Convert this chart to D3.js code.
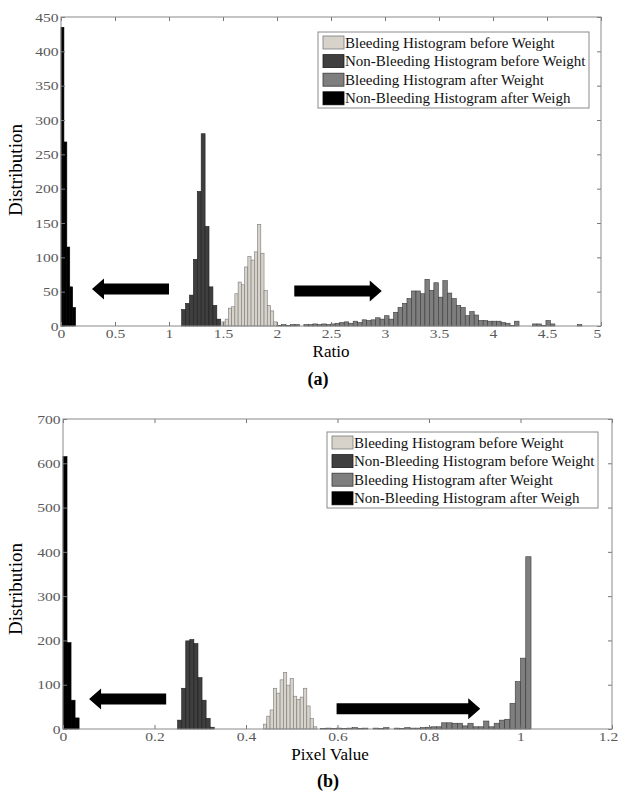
<!DOCTYPE html>
<html>
<head>
<meta charset="utf-8">
<script src="https://cdn.jsdelivr.net/npm/d3@7"></script>
<style>
body { margin: 0; background: #fff; }
svg, svg text { font-family: "Liberation Serif", "Times New Roman", "DejaVu Serif", serif !important; }
</style>
</head>
<body>
<svg id="fig" width="620" height="796" font-family="Liberation Serif"></svg>
<script>
// legend entries, same for both panels
const seriesNames = [
    'Bleeding Histogram before Weight',
    'Non-Bleeding Histogram before Weight',
    'Bleeding Histogram after Weight',
    'Non-Bleeding Histogram after Weigh'
];

// ---- panel (a): ratio ----
const ratioTicks = [0, 0.5, 1, 1.5, 2, 2.5, 3, 3.5, 4, 4.5, 5];
const ratioCountTicks = [0, 50, 100, 150, 200, 250, 300, 350, 400, 450];

// each histogram: first bin edge, bin width, counts
const ratioBleedBeforeStart = 1.49, ratioBleedBeforeBin = 0.03;
const ratioBleedBefore = [6, 10, 26, 28, 47, 64, 60, 86, 101, 96, 108, 148, 106, 52, 30, 22, 6];

const ratioNonBleedBeforeStart = 1.117, ratioNonBleedBeforeBin = 0.0362;
const ratioNonBleedBefore = [24, 33, 45, 97, 196, 280, 145, 57, 30, 10];

const ratioBleedAfterStart = 2.0, ratioBleedAfterBin = 0.0415;
const ratioBleedAfter = [1, 2, 1, 2, 2, 0, 2, 2, 3, 2, 3, 2, 3, 4, 5, 6, 4, 7, 5, 9, 8, 9, 12,
    10, 15, 10, 20, 27, 33, 40, 51, 51, 47, 68, 52, 63, 42, 66, 48, 40, 30, 27, 15,
    21, 16, 8, 8, 7, 7, 7, 5, 4, 1, 7, 0, 0, 0, 3, 3, 1, 8, 3, 0, 0, 0, 0, 0, 2];

const ratioNonBleedAfterStart = 0, ratioNonBleedAfterBin = 0.027;
const ratioNonBleedAfter = [435, 268, 115, 57, 27];

// arrows: [tail, tip, height] in data units
const ratioArrows = [[1.0, 0.287, 54], [2.16, 2.97, 51]];

// ---- panel (b): pixel value ----
const pixelTicks = [0, 0.2, 0.4, 0.6, 0.8, 1, 1.2];
const pixelCountTicks = [0, 100, 200, 300, 400, 500, 600, 700];

const pixelBleedBeforeStart = 0.438, pixelBleedBeforeBin = 0.0073;
const pixelBleedBefore = [11, 29, 43, 92, 81, 111, 128, 99, 114, 74, 67, 72, 92, 52, 24, 5];

const pixelNonBleedBeforeStart = 0.2505, pixelNonBleedBeforeBin = 0.0089;
const pixelNonBleedBefore = [20, 92, 199, 202, 193, 116, 65, 24, 4];

const pixelBleedAfterStart = 0.563, pixelBleedAfterBin = 0.0115;
const pixelBleedAfter = [1, 2, 1, 2, 1, 2, 3, 1, 2, 0, 2, 1, 3, 0, 2, 1, 3, 2, 2, 3, 4, 5, 5,
    14, 14, 13, 13, 7, 13, 5, 5, 18, 5, 13, 20, 22, 58, 107, 160, 389];

const pixelNonBleedAfterStart = 0, pixelNonBleedAfterBin = 0.0088;
const pixelNonBleedAfter = [615, 195, 65, 25];

const pixelArrows = [[0.2255, 0.057, 68], [0.598, 0.912, 46]];

// styling
const fills = ['#d7d3ca', '#3f3f3f', '#7e7e7e', '#000000'];
const strokes = ['#7a7a7a', '#1e1e1e', '#3a3a3a', '#000000'];
const serif = '"Liberation Serif", "Times New Roman", serif';

const svg = d3.select('#fig');

function drawPanel(p) {
    const g = svg.append('g');
    const x = d3.scaleLinear().domain(p.xDomain).range([p.left, p.right]);
    const y = d3.scaleLinear().domain(p.yDomain).range([p.bottom, p.top]);

    // histograms, in legend order
    p.series.forEach((s, i) => {
        const bins = s.counts.map((c, k) => ({
            x0: s.start + k * s.bin,
            x1: s.start + (k + 1) * s.bin,
            c: c
        })).filter(b => b.c > 0);
        g.append('g').selectAll('rect')
            .data(bins)
            .join('rect')
            .attr('x', d => x(d.x0))
            .attr('width', d => x(d.x1) - x(d.x0))
            .attr('y', d => y(d.c))
            .attr('height', d => y(0) - y(d.c))
            .attr('fill', fills[i])
            .attr('stroke', strokes[i])
            .attr('stroke-width', 0.6);
    });

    // axes with inward ticks on all four sides
    const fmt = d => String(d);
    const styleAxis = sel => {
        sel.attr('font-family', serif);
        sel.select('.domain').remove();
        sel.selectAll('line').attr('stroke', '#777');
        sel.selectAll('text')
            .attr('fill', '#5a5a5a')
            .attr('font-size', 13)
            .style('font-family', serif);
    };
    g.append('g').attr('transform', `translate(0,${p.bottom})`)
        .call(d3.axisBottom(x).tickValues(p.xTicks).tickFormat(fmt).tickSizeInner(-4).tickSizeOuter(0).tickPadding(3))
        .call(styleAxis)
        .selectAll('text')
        .attr('transform', d => x(d) > p.right - 8 ? 'translate(-4,0) scale(1.2,1)' : 'scale(1.2,1)');
    g.append('g').attr('transform', `translate(0,${p.top})`)
        .call(d3.axisTop(x).tickValues(p.xTicks).tickFormat('').tickSizeInner(-4).tickSizeOuter(0))
        .call(styleAxis);
    g.append('g').attr('transform', `translate(${p.left},0)`)
        .call(d3.axisLeft(y).tickValues(p.yTicks).tickFormat(fmt).tickSizeInner(-4).tickSizeOuter(0).tickPadding(2))
        .call(styleAxis)
        .selectAll('text').attr('transform', 'scale(1.2,1)');
    g.append('g').attr('transform', `translate(${p.right},0)`)
        .call(d3.axisRight(y).tickValues(p.yTicks).tickFormat('').tickSizeInner(-4).tickSizeOuter(0))
        .call(styleAxis);

    g.append('rect')
        .attr('x', p.left).attr('y', p.top)
        .attr('width', p.right - p.left).attr('height', p.bottom - p.top)
        .attr('fill', 'none').attr('stroke', '#8a8a8a').attr('stroke-width', 1);

    // black arrows
    const bodyT = 11, headL = 12, headH = 21;
    p.arrows.forEach(a => {
        const xt = x(a[0]), xh = x(a[1]), cy = y(a[2]);
        const s = Math.sign(xh - xt);
        const xb = xh - s * headL;
        const pts = [[xt, cy - bodyT / 2], [xb, cy - bodyT / 2], [xb, cy - headH / 2], [xh, cy],
            [xb, cy + headH / 2], [xb, cy + bodyT / 2], [xt, cy + bodyT / 2]];
        g.append('path')
            .attr('d', d3.line()(pts) + 'Z')
            .attr('fill', '#000');
    });

    // legend
    const lg = g.append('g').attr('transform', `translate(${p.legend[0]},${p.legend[1]})`);
    lg.append('rect')
        .attr('width', 271).attr('height', 76)
        .attr('fill', '#fff').attr('stroke', '#8a8a8a').attr('stroke-width', 1);
    seriesNames.forEach((name, i) => {
        const cy = 10.5 + i * 18.6;
        lg.append('rect')
            .attr('x', 5).attr('y', cy - 6.5)
            .attr('width', 21).attr('height', 13)
            .attr('fill', fills[i]).attr('stroke', strokes[i]).attr('stroke-width', 0.8);
        lg.append('text')
            .attr('x', 27).attr('y', cy + 5)
            .attr('font-size', 15)
            .attr('font-family', serif)
            .attr('fill', '#111')
            .text(name);
    });

    // titles
    g.append('text')
        .attr('transform', `translate(${p.yLabelPos[0]},${p.yLabelPos[1]}) rotate(-90)`)
        .attr('text-anchor', 'middle')
        .attr('font-size', 19)
        .attr('font-family', serif)
        .text('Distribution');
    g.append('text')
        .attr('x', p.xLabelPos[0]).attr('y', p.xLabelPos[1])
        .attr('text-anchor', 'middle')
        .attr('font-size', 17)
        .attr('font-family', serif)
        .text(p.xLabel);
    g.append('text')
        .attr('x', p.tagPos[0]).attr('y', p.tagPos[1])
        .attr('text-anchor', 'middle')
        .attr('font-size', 18)
        .attr('font-weight', 'bold')
        .attr('font-family', serif)
        .text(p.tag);
}

drawPanel({
    left: 61, right: 601, top: 17, bottom: 326,
    xDomain: [0, 5], yDomain: [0, 450],
    xTicks: ratioTicks, yTicks: ratioCountTicks,
    series: [
        {start: ratioBleedBeforeStart, bin: ratioBleedBeforeBin, counts: ratioBleedBefore},
        {start: ratioNonBleedBeforeStart, bin: ratioNonBleedBeforeBin, counts: ratioNonBleedBefore},
        {start: ratioBleedAfterStart, bin: ratioBleedAfterBin, counts: ratioBleedAfter},
        {start: ratioNonBleedAfterStart, bin: ratioNonBleedAfterBin, counts: ratioNonBleedAfter}
    ],
    arrows: ratioArrows,
    legend: [318, 32],
    yLabelPos: [22, 170],
    xLabel: 'Ratio', xLabelPos: [331, 357],
    tag: '(a)', tagPos: [318, 385]
});

drawPanel({
    left: 63, right: 612, top: 419, bottom: 729,
    xDomain: [0, 1.2], yDomain: [0, 700],
    xTicks: pixelTicks, yTicks: pixelCountTicks,
    series: [
        {start: pixelBleedBeforeStart, bin: pixelBleedBeforeBin, counts: pixelBleedBefore},
        {start: pixelNonBleedBeforeStart, bin: pixelNonBleedBeforeBin, counts: pixelNonBleedBefore},
        {start: pixelBleedAfterStart, bin: pixelBleedAfterBin, counts: pixelBleedAfter},
        {start: pixelNonBleedAfterStart, bin: pixelNonBleedAfterBin, counts: pixelNonBleedAfter}
    ],
    arrows: pixelArrows,
    legend: [327, 432],
    yLabelPos: [22, 589],
    xLabel: 'Pixel Value', xLabelPos: [330, 760],
    tag: '(b)', tagPos: [328, 787]
});
</script>
</body>
</html>
